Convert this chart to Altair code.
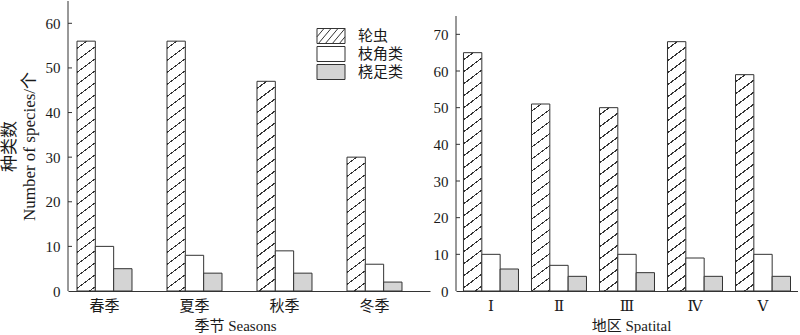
import altair as alt
import pandas as pd

# ---------------- data ----------------
series = ["轮虫", "枝角类", "桡足类"]

seasons = ["春季", "夏季", "秋季", "冬季"]
season_rotifer = [56, 56, 47, 30]
season_cladocera = [10, 8, 9, 6]
season_copepod = [5, 4, 4, 2]
season_ticks = [0, 10, 20, 30, 40, 50, 60]
season_axis_max = 65

regions = ["Ⅰ", "Ⅱ", "Ⅲ", "Ⅳ", "Ⅴ"]
region_rotifer = [65, 51, 50, 68, 59]
region_cladocera = [10, 7, 10, 9, 10]
region_copepod = [6, 4, 5, 4, 4]
region_ticks = [0, 10, 20, 30, 40, 50, 60, 70]
region_axis_max = 75

# ---------------- style ----------------
FONT = "Liberation Serif, DejaVu Serif, Noto Sans CJK SC"
INK = "#333333"
TEXT = "#1a1a1a"
GRAY = "#d4d4d4"
WHITE = "#ffffff"

RECT_PATH = "M-1.867,-1H1.867V1H-1.867Z"
HATCH_PATH = (RECT_PATH +
              "M-1.867,0.11L-0.933,-1M-1.68,1L0,-1M-0.747,1L0.933,-1"
              "M0.187,1L1.867,-1M1.12,1L1.867,0.11")


def long_df(cats, a, b, c):
    rows = []
    for i, cat in enumerate(cats):
        for s, v in zip(series, (a[i], b[i], c[i])):
            rows.append({"cat": cat, "series": s, "value": v})
    return pd.DataFrame(rows)


def hatch_gradient(h, w, slope=0.75, period=12.0, thick=1.3):
    """Diagonal '/' hatching as a hard-stop linear gradient in bbox units."""
    S = slope * w + h
    k = S / (slope * slope * w * w + h * h)
    stops = [{"offset": 0, "color": WHITE}]
    c = period * 0.6
    while c - thick / 2 < S:
        a0 = max(0.0, min(1.0, (c - thick / 2) / S))
        a1 = max(0.0, min(1.0, (c + thick / 2) / S))
        stops += [{"offset": a0, "color": WHITE}, {"offset": a0, "color": INK},
                  {"offset": a1, "color": INK}, {"offset": a1, "color": WHITE}]
        c += period
    stops.append({"offset": 1, "color": WHITE})
    return {"gradient": "linear", "x1": 0, "y1": 0,
            "x2": slope * w * k, "y2": h * k, "stops": stops}


def panel(cats, rot, cla, cop, axis_max, ticks, width, height, axis_len, pin, pout, align,
          ytitle, xtitle, titlex, legend):
    df = long_df(cats, rot, cla, cop)
    n = len(cats)
    step = width / (n - pin + 2 * pout)
    barw = step * (1 - pin) / 3
    # the y axis line is axis_len px long; the plot is `height` px tall
    ymax = axis_max * height / axis_len
    px_per_unit = height / ymax

    conds = [{"test": "datum.series == '桡足类'", "value": GRAY}]
    for cat, v in zip(cats, rot):
        conds.append({"test": f"datum.series == '轮虫' && datum.cat == '{cat}'",
                      "value": hatch_gradient(v * px_per_unit, barw)})

    xenc = alt.X("cat:N", sort=cats,
                 scale=alt.Scale(domain=cats, paddingInner=pin, paddingOuter=pout, align=align),
                 axis=alt.Axis(title=xtitle, ticks=False, labelAngle=0, labelPadding=7,
                               titlePadding=5, titleX=titlex))
    yaxis = dict(values=ticks, ticks=False, grid=False, domain=False, labelPadding=8,
                 titlePadding=7, titleLineHeight=20, titleFontSize=17)
    yaxis["title"] = ytitle if ytitle else None
    yenc = alt.Y("value:Q", scale=alt.Scale(domain=[0, ymax], nice=False),
                 axis=alt.Axis(**yaxis))

    bars = alt.Chart(df).mark_bar(stroke=INK, strokeWidth=1).encode(
        x=xenc,
        xOffset=alt.XOffset("series:N", sort=series,
                            scale=alt.Scale(domain=series, paddingInner=0, paddingOuter=0)),
        y=yenc,
        fill=alt.value(WHITE, condition=conds),
    )

    tick_df = pd.DataFrame({"value": [t for t in ticks if t > 0]})
    tk = alt.Chart(tick_df).mark_rule(color=INK, strokeWidth=1).encode(
        y=yenc, x=alt.value(0), x2=alt.value(4))

    dom_df = pd.DataFrame({"value": [0], "top": [axis_max]})
    dom = alt.Chart(dom_df).mark_rule(color=INK, strokeWidth=1).encode(
        y=yenc, y2="top:Q", x=alt.value(0))

    layers = [bars, tk, dom]
    if legend:
        lg = alt.Legend(orient="none", legendX=255, legendY=27, title=None,
                        labelFont=FONT, labelFontSize=15, labelColor=TEXT,
                        symbolSize=225, symbolStrokeWidth=1, symbolOpacity=1,
                        rowPadding=-4, labelOffset=19, padding=0)
        dummy = alt.Chart(df).mark_point(filled=True, opacity=0, stroke=INK, strokeWidth=1).encode(
            x=alt.X("cat:N", sort=cats),
            y=alt.Y("value:Q"),
            shape=alt.Shape("series:N", sort=series,
                            scale=alt.Scale(domain=series, range=[HATCH_PATH, RECT_PATH, RECT_PATH]),
                            legend=lg),
            fill=alt.Fill("series:N", sort=series,
                          scale=alt.Scale(domain=series, range=[WHITE, WHITE, GRAY]),
                          legend=lg),
        )
        layers.append(dummy)

    return alt.layer(*layers).properties(width=width, height=height)


left = panel(seasons, season_rotifer, season_cladocera, season_copepod, season_axis_max,
             season_ticks, 362, 290, 290, 0.3889, 0.2056, 0.243,
             ["种类数", "Number of species/个"], "季节 Seasons", 167, True)
right = panel(regions, region_rotifer, region_cladocera, region_copepod, region_axis_max,
              region_ticks, 342, 290, 275, 0.191, 0.110, 0.5,
              None, "地区 Spatital", 175, False)

chart = alt.hconcat(left, right, spacing=3).properties(
    padding=0, background="white"
).configure_view(stroke=None).configure_axis(
    labelFont=FONT, labelFontSize=15, labelColor=TEXT,
    titleFont=FONT, titleFontSize=15, titleFontWeight="normal", titleColor=TEXT,
    domainColor=INK, domainWidth=1,
)

chart.save("out.html", embed_options={"renderer": "svg", "actions": False})
